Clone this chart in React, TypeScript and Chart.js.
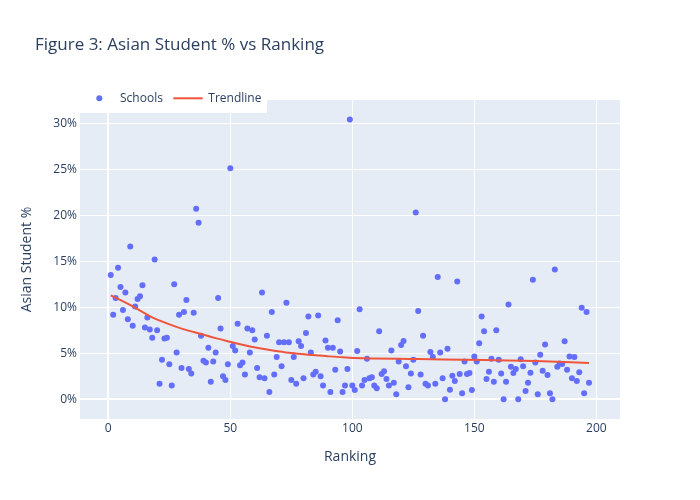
import React, { useEffect, useRef } from "react";
import { Chart, registerables } from "chart.js";

Chart.register(...registerables);

// Ranking of each school (x) and Asian student share in percent (y)
const rankings: number[] = [
  1, 2, 3, 4, 5, 6, 7, 8, 9, 10, 11, 12, 13, 14, 15, 16, 17, 18, 19, 20,
  21, 22, 23, 24, 25, 26, 27, 28, 29, 30, 31, 32, 33, 34, 35, 36, 37, 38, 39, 40,
  41, 42, 43, 44, 45, 46, 47, 48, 49, 50, 51, 52, 53, 54, 55, 56, 57, 58, 59, 60,
  61, 62, 63, 64, 65, 66, 67, 68, 69, 70, 71, 72, 73, 74, 75, 76, 77, 78, 79, 80,
  81, 82, 83, 84, 85, 86, 87, 88, 89, 90, 91, 92, 93, 94, 95, 96, 97, 98, 99, 100,
  101, 102, 103, 104, 105, 106, 107, 108, 109, 110, 111, 112, 113, 114, 115, 116, 117, 118, 119, 120,
  121, 122, 123, 124, 125, 126, 127, 128, 129, 130, 131, 132, 133, 134, 135, 136, 137, 138, 139, 140,
  141, 142, 143, 144, 145, 146, 147, 148, 149, 150, 151, 152, 153, 154, 155, 156, 157, 158, 159, 160,
  161, 162, 163, 164, 165, 166, 167, 168, 169, 170, 171, 172, 173, 174, 175, 176, 177, 178, 179, 180,
  181, 182, 183, 184, 185, 186, 187, 188, 189, 190, 191, 192, 193, 194, 195, 196, 197,
];

const asianPct: number[] = [
  13.5, 9.2, 11.0, 14.3, 12.2, 9.7, 11.6, 8.7, 16.6, 8.0,
  10.1, 10.9, 11.2, 12.4, 7.8, 8.9, 7.6, 6.7, 15.2, 7.5,
  1.7, 4.3, 6.6, 6.7, 3.8, 1.5, 12.5, 5.1, 9.2, 3.4,
  9.5, 10.8, 3.3, 2.8, 9.4, 20.7, 19.2, 6.9, 4.2, 4.0,
  5.6, 1.9, 4.1, 5.1, 11.0, 7.7, 2.5, 2.1, 3.8, 25.1,
  5.8, 5.3, 8.2, 3.7, 4.0, 2.7, 7.7, 5.1, 7.5, 6.5,
  3.4, 2.4, 11.6, 2.3, 6.9, 0.8, 9.5, 2.7, 4.6, 6.2,
  3.6, 6.2, 10.5, 6.2, 2.1, 4.6, 1.7, 6.3, 5.8, 2.3,
  7.2, 9.0, 5.1, 2.7, 3.0, 9.1, 2.5, 1.5, 6.4, 5.6,
  0.8, 5.6, 3.2, 8.6, 5.2, 0.8, 1.5, 3.3, 30.4, 1.5,
  1.0, 5.25, 9.8, 1.5, 2.1, 4.4, 2.3, 2.4, 1.5, 1.2,
  7.4, 2.75, 3.05, 2.2, 1.5, 5.3, 1.8, 0.55, 4.1, 5.9,
  6.35, 3.6, 1.3, 2.8, 4.3, 20.3, 9.6, 2.7, 6.9, 1.7,
  1.5, 5.15, 4.6, 1.7, 13.3, 5.1, 2.3, 0.0, 5.5, 1.05,
  2.55, 2.0, 12.8, 2.75, 0.65, 4.1, 2.75, 2.85, 1.0, 4.65,
  4.1, 6.1, 9.0, 7.4, 2.2, 3.0, 4.4, 1.9, 7.5, 4.3,
  2.8, 0.0, 1.9, 10.3, 3.55, 2.85, 3.3, 0.0, 4.35, 3.6,
  0.9, 1.8, 2.9, 13.0, 4.0, 0.55, 4.85, 3.1, 5.95, 2.65,
  0.65, 0.0, 14.1, 3.55, 3.9, 3.85, 6.3, 3.2, 4.65, 2.3,
  4.6, 2.0, 2.95, 9.95, 0.65, 9.5, 1.8,
];

// Trendline
const trendX: number[] = [1, 10, 17, 24, 31, 38, 44, 50, 55, 62, 69, 75, 82, 89, 96, 101, 127, 154, 175, 197];
const trendY: number[] = [11.3, 10.1, 9.05, 8.25, 7.6, 7.1, 6.65, 6.25, 5.92, 5.54, 5.25, 5.03, 4.85, 4.7, 4.56, 4.49, 4.38, 4.27, 4.16, 3.95];

const xTickStep = 50;
const yTickStep = 5;

const TITLE = "Figure 3: Asian Student % vs Ranking";
const X_TITLE = "Ranking";
const Y_TITLE = "Asian Student %";
const SERIES_NAMES = ["Schools", "Trendline"];

const TEXT = "#2a3f5f";
const MARKER = "#636efa";
const LINE = "#EF553B";
const BG = "#E5ECF6";
const FONT = "'Open Sans', 'Noto Sans', sans-serif";

const decorPlugin = {
  id: "decor",
  beforeDraw(chart: any) {
    const { ctx, chartArea } = chart;
    ctx.save();
    ctx.fillStyle = "#ffffff";
    ctx.fillRect(0, 0, chart.width, chart.height);
    ctx.fillStyle = BG;
    ctx.fillRect(chartArea.left, chartArea.top, chartArea.right - chartArea.left, chartArea.bottom - chartArea.top);
    ctx.restore();
  },
  afterDraw(chart: any) {
    const { ctx } = chart;
    ctx.save();
    // title
    ctx.fillStyle = TEXT;
    ctx.font = `17px ${FONT}`;
    ctx.textAlign = "left";
    ctx.textBaseline = "middle";
    ctx.fillText(TITLE, 35, 45);
    // legend
    ctx.fillStyle = "#ffffff";
    ctx.fillRect(80, 84, 187, 29);
    ctx.fillStyle = MARKER;
    ctx.beginPath();
    ctx.arc(99.3, 98.3, 3, 0, Math.PI * 2);
    ctx.fill();
    ctx.strokeStyle = LINE;
    ctx.lineWidth = 2;
    ctx.beginPath();
    ctx.moveTo(173.3, 98.3);
    ctx.lineTo(202.7, 98.3);
    ctx.stroke();
    ctx.fillStyle = TEXT;
    ctx.font = `12px ${FONT}`;
    ctx.fillText(SERIES_NAMES[0], 120, 98.5);
    ctx.fillText(SERIES_NAMES[1], 208.3, 98.5);
    ctx.restore();
  },
};

export default function App() {
  const canvasRef = useRef<HTMLCanvasElement | null>(null);

  useEffect(() => {
    if (!canvasRef.current) return;
    const points = rankings.map((r, i) => ({ x: r, y: asianPct[i] }));
    const trend = trendX.map((x, i) => ({ x, y: trendY[i] }));
    const chart = new Chart(canvasRef.current, {
      type: "scatter",
      data: {
        datasets: [
          {
            label: SERIES_NAMES[0],
            data: points,
            backgroundColor: MARKER,
            borderWidth: 0,
            pointRadius: 3,
            pointHoverRadius: 3,
            order: 2,
          },
          {
            label: SERIES_NAMES[1],
            data: trend,
            showLine: true,
            borderColor: LINE,
            borderWidth: 2,
            pointRadius: 0,
            cubicInterpolationMode: "monotone",
            order: 1,
          } as any,
        ],
      },
      options: {
        animation: false,
        responsive: false,
        devicePixelRatio: 1,
        layout: { padding: { top: 100, right: 80, left: 0, bottom: 0 } },
        plugins: {
          legend: { display: false },
          title: { display: false },
          tooltip: { enabled: false },
        },
        scales: {
          x: {
            type: "linear",
            min: -11.6,
            max: 209.7,
            afterFit: (scale: any) => {
              scale.height = 81;
            },
            grid: {
              color: "#ffffff",
              lineWidth: (ctx: any) => (ctx.tick && ctx.tick.value === 0 ? 2 : 1),
              drawTicks: false,
            },
            border: { display: false },
            ticks: {
              stepSize: xTickStep,
              includeBounds: false,
              padding: 2,
              color: TEXT,
              font: { family: FONT, size: 12 },
              maxRotation: 0,
            },
            title: {
              display: true,
              text: X_TITLE,
              color: TEXT,
              font: { family: FONT, size: 14 },
              padding: { top: 0, bottom: 34.6 },
            },
          },
          y: {
            type: "linear",
            min: -2.14,
            max: 32.53,
            afterFit: (scale: any) => {
              scale.width = 80;
            },
            grid: {
              color: "#ffffff",
              lineWidth: (ctx: any) => (ctx.tick && ctx.tick.value === 0 ? 2 : 1),
              drawTicks: false,
            },
            border: { display: false },
            ticks: {
              stepSize: yTickStep,
              includeBounds: false,
              padding: 3,
              color: TEXT,
              font: { family: FONT, size: 12 },
              callback: (v: any) => `${v}%`,
            },
            title: {
              display: true,
              text: Y_TITLE,
              color: TEXT,
              font: { family: FONT, size: 14 },
              padding: { top: 18.6, bottom: 0 },
            },
          },
        },
      } as any,
      plugins: [decorPlugin],
    });
    return () => chart.destroy();
  }, []);

  return (
    <div style={{ position: "absolute", left: 0, top: 0, width: 700, height: 500 }}>
      <canvas ref={canvasRef} width={700} height={500} style={{ width: 700, height: 500, display: "block" }} />
    </div>
  );
}
